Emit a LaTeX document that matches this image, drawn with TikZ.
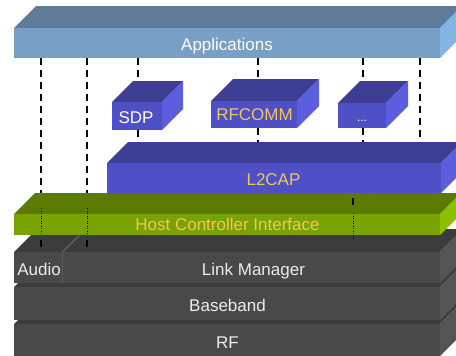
\documentclass[tikz,border=0pt]{standalone}
\usepackage{fontspec}
\setmainfont{Liberation Sans}
\usetikzlibrary{calc}
\definecolor{appfront}{HTML}{789FC6}
\definecolor{apptop}{HTML}{5E7B99}
\definecolor{appside}{HTML}{85B5E2}
\definecolor{protofront}{HTML}{4F4FC6}
\definecolor{prototop}{HTML}{3D3D94}
\definecolor{protoside}{HTML}{5D5DE0}
\definecolor{hcifront}{HTML}{79A300}
\definecolor{hcitop}{HTML}{5B7B00}
\definecolor{hciside}{HTML}{8CC000}
\definecolor{darkfront}{HTML}{494949}
\definecolor{darktop}{HTML}{3C3C3C}
\definecolor{darkside}{HTML}{545454}
\definecolor{labelgold}{HTML}{F2C45E}
\definecolor{divider}{HTML}{5C5C5C}

% A layer block: top face, right face and front face.
% #1 name, #2 left, #3 top, #4 right, #5 bottom, #6 colour prefix, #7 depth
\newcommand\slab[7]{%
  \fill[#6top] (#2,#3) -- (#2+#7,#3-#7) -- (#4+#7,#3-#7) -- (#4,#3) -- cycle;
  \fill[#6side] (#4,#3) -- (#4+#7,#3-#7) -- (#4+#7,#5-#7) -- (#4,#5) -- cycle;
  \node[face, fill=#6front, minimum width={#4-#2}, minimum height={#5-#3},
        anchor=north west] (#1) at (#2,#3) {};
  \coordinate (#1-back) at (#2+#7,#3-#7);
}

\begin{document}
\begin{tikzpicture}[x=1pt, y=-1pt,
  face/.style={inner sep=0pt, outer sep=0pt, draw=none},
  lbl/.style={inner sep=0pt, anchor=base, font=\fontsize{17}{20}\selectfont},
  link/.style={line width=1.7pt, dash pattern=on 7pt off 5pt},
  thru/.style={line width=1pt, dash pattern=on 1pt off 1.5pt}]
\useasboundingbox (0,0) rectangle (456,356);
\clip (0,0) rectangle (456,356);

% controller stack, drawn bottom up
\slab{rf}{14}{324}{440}{356}{dark}{23}
\slab{bb}{14}{287}{440}{320}{dark}{23}
\slab{lm}{14}{252}{440}{283}{dark}{23}
\coordinate (split) at (62.5,252);
\draw[divider, line width=1.5pt] (split) -- (split |- lm.south);
\draw[divider, line width=1.5pt] (split) -- ++(23,-23);

% host controller interface
\slab{hci}{14}{214}{440}{235}{hci}{21}

% host protocols
\slab{l2cap}{107}{163}{441}{193}{proto}{21}
\slab{sdp}{112}{102}{162}{130}{proto}{21}
\slab{rfcomm}{211}{101}{297}{128}{proto}{22}
\slab{more}{338}{103}{386}{128}{proto}{22}

% applications
\slab{app}{14}{28}{440}{58}{app}{22}

% labels
\node[lbl, text=white] (tapp) at (227,50) {Applications};
\node[lbl, text=white] (tsdp) at (136,123.3) {SDP};
\node[lbl, text=labelgold] (trfc) at (254.5,120.7) {RFCOMM};
\node[lbl, text=white, font=\fontsize{12}{14}\selectfont] (tmore) at (362,121.7) {...};
\node[lbl, text=labelgold] (tl2) at (273.5,185.7) {L2CAP};
\node[lbl, text=labelgold] (thci) at (227.5,230.7) {Host Controller Interface};
\node[lbl, text=white!92!black] (taudio) at (39,275) {Audio};
\node[lbl, text=white!92!black] (tlm) at (253.5,275) {Link Manager};
\node[lbl, text=white!92!black] (tbb) at (227.5,311) {Baseband};
\node[lbl, text=white!92!black] (trf) at (227.5,348.3) {RF};

% connection columns
\coordinate (c1) at (41,0);
\coordinate (c2) at (87,0);
\coordinate (c3) at (138,0);
\coordinate (c4) at (258,0);
\coordinate (c5) at (363,0);
\coordinate (c6) at (420,0);
\coordinate (c7) at (353,0);

% audio paths from applications through the HCI
\foreach \c in {c1,c2} {
  \draw[link] (app.south -| \c) -- (hci-back -| \c);
  \draw[thru] ($(hci.north -| \c)+(0,-6)$) -- (hci.south -| \c);
  \draw[line width=1.7pt] ($(hci.south -| \c)+(0,5)$) -- ($(hci.south -| \c)+(0,12)$);
}

% protocol links
\draw[link] (app.south -| c3) -- (sdp-back -| c3);
\draw[link] (sdp.south -| c3) -- (l2cap-back -| c3);
\draw[link] (app.south -| c4) -- (rfcomm-back -| c4);
\draw[link] (rfcomm.south -| c4) -- (l2cap-back -| c4);
\draw[link] (app.south -| c5) -- (more-back -| c5);
\draw[link] (more.south -| c5) -- (l2cap-back -| c5);
\draw[link] (app.south -| c6) -- (l2cap-back -| c6);

% L2CAP down through the HCI
\draw[line width=1.7pt] ($(hci-back -| c7)+(0,5)$) -- ($(hci-back -| c7)+(0,12)$);
\draw[thru] ($(hci.north -| c7)+(0,-1)$) -- ($(hci.south -| c7)+(0,4)$);
\end{tikzpicture}
\end{document}
